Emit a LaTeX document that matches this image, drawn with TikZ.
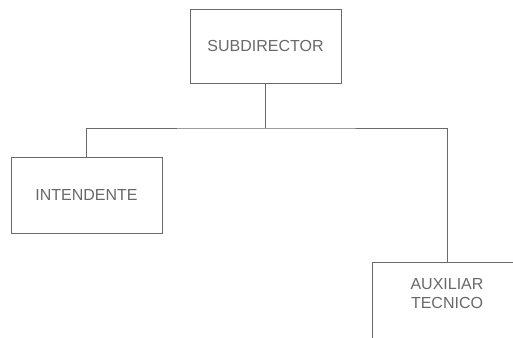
\documentclass[tikz,border=0pt]{standalone}
\usepackage{fontspec}
\setmainfont{Liberation Sans}
\usetikzlibrary{positioning}
\definecolor{inkgray}{RGB}{105,105,105}
\tikzset{
	post/.style={draw=inkgray, line width=0.9pt, text=inkgray, font=\fontsize{16}{19}\selectfont, align=center, minimum width=151pt, inner sep=0pt, outer sep=0pt},
	link/.style={draw=inkgray, line width=0.9pt}
}
\begin{document}
\begin{tikzpicture}[x=1pt,y=-1pt]
		\clip (0,0) rectangle (513,337);
		\fill[white] (0,0) rectangle (513,337);
		\node (sub) at (265.5,46)[post, minimum height=74pt]{SUBDIRECTOR} ;
		\node (int) at (86.5,195)[post, minimum height=76pt]{INTENDENTE} ;
		\node (aux) at (447,300)[post, minimum width=150pt, minimum height=76pt, text depth=14pt]{AUXILIAR\\TECNICO} ;
		\coordinate (bus) at (0,128);
		\draw[link] (sub.south) -- (sub.south |- bus);
		\draw[link] (int.north) |- (sub.south |- bus) -| (aux.north);
		\end{tikzpicture}
\end{document}
